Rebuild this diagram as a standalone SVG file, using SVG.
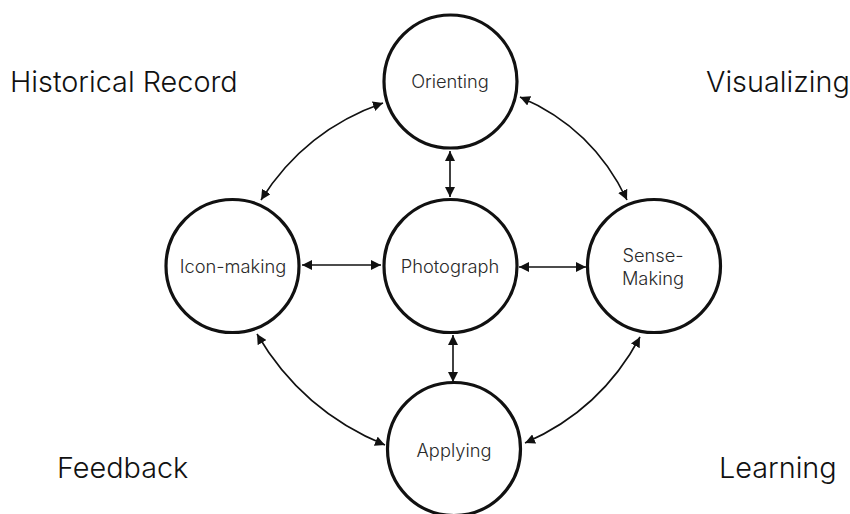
<svg xmlns="http://www.w3.org/2000/svg" width="850" height="514" viewBox="0 0 850 514">
<style>
.node{fill:#fff;stroke:#111;stroke-width:3.2}
.lbl{font-family:Inter,"Liberation Sans",sans-serif;font-weight:300;font-size:18.3px;fill:#2a2a2a;text-anchor:middle}
.big{font-family:Inter,"Liberation Sans",sans-serif;font-weight:300;font-size:28.8px;fill:#111}
.conn{fill:none;stroke:#111;stroke-width:1.6}
</style>
<defs>
<marker id="ah" viewBox="0 0 10 10" refX="10" refY="5" markerWidth="10" markerHeight="10" markerUnits="userSpaceOnUse" orient="auto-start-reverse">
<path d="M0,0 L10,5 L0,10 z" fill="#111"/>
</marker>
</defs>
<rect width="850" height="514" fill="#fff"/>
<g id="corner-labels">
<text class="big" x="10" y="92">Historical Record</text>
<text class="big" x="706" y="92">Visualizing</text>
<text class="big" x="57" y="478">Feedback</text>
<text class="big" x="719" y="478">Learning</text>
</g>
<g id="connectors">
<path class="conn" d="M450,151 L450,197" marker-start="url(#ah)" marker-end="url(#ah)"/>
<path class="conn" d="M302,265 L381,265" marker-start="url(#ah)" marker-end="url(#ah)"/>
<path class="conn" d="M519,267 L586,267" marker-start="url(#ah)" marker-end="url(#ah)"/>
<path class="conn" d="M453,335 L453,382" marker-start="url(#ah)" marker-end="url(#ah)"/>
<path class="conn" d="M383,103 Q305,130 261,200" marker-start="url(#ah)" marker-end="url(#ah)"/>
<path class="conn" d="M520,97 Q593,128 627,200" marker-start="url(#ah)" marker-end="url(#ah)"/>
<path class="conn" d="M257,334 Q302,411 385,445" marker-start="url(#ah)" marker-end="url(#ah)"/>
<path class="conn" d="M640,337 Q601,410 525,443" marker-start="url(#ah)" marker-end="url(#ah)"/>
</g>
<g id="orienting"><circle class="node" cx="450.5" cy="81.5" r="66.5"/><text class="lbl" x="450" y="88">Orienting</text></g>
<g id="icon-making"><circle class="node" cx="232.5" cy="266" r="66.5"/><text class="lbl" x="233" y="273">Icon-making</text></g>
<g id="photograph"><circle class="node" cx="450.5" cy="266" r="66.5"/><text class="lbl" x="450" y="273">Photograph</text></g>
<g id="sense-making"><circle class="node" cx="654" cy="266" r="66.5"/><text class="lbl" x="653" y="262">Sense-</text><text class="lbl" x="653" y="285">Making</text></g>
<g id="applying"><circle class="node" cx="454" cy="449" r="66.5"/><text class="lbl" x="454" y="457">Applying</text></g>
</svg>
